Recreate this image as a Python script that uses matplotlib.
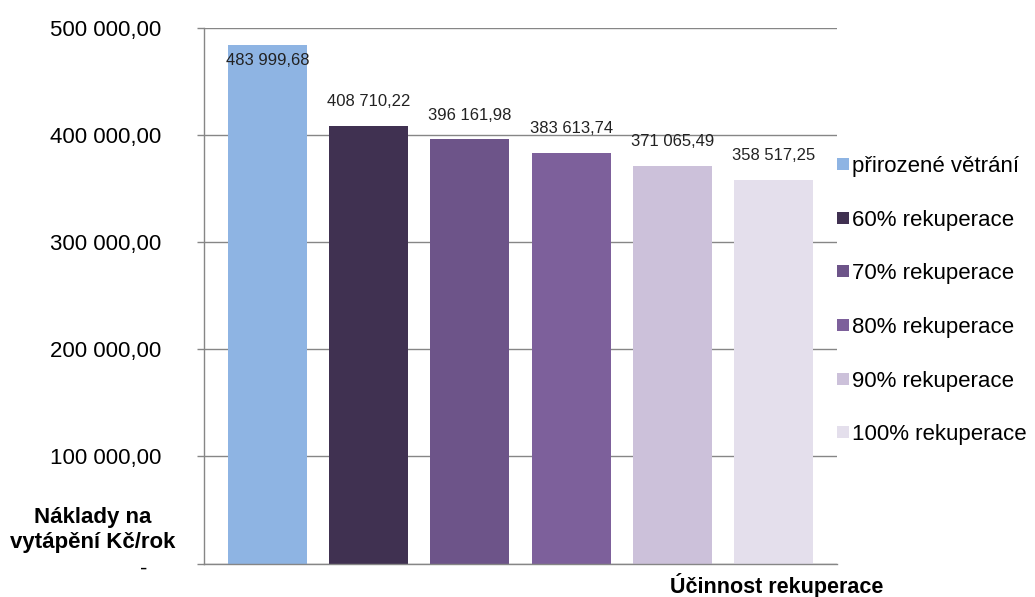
import matplotlib.pyplot as plt
from matplotlib.transforms import blended_transform_factory

plt.rcParams['font.family'] = ['Liberation Sans', 'DejaVu Sans']

# data
series = ["přirozené větrání", "60% rekuperace", "70% rekuperace",
          "80% rekuperace", "90% rekuperace", "100% rekuperace"]
costs = [483999.68, 408710.22, 396161.98, 383613.74, 371065.49, 358517.25]
colors = ["#8EB4E3", "#403151", "#6D5489", "#7D609B", "#CCC1DA", "#E4DFEC"]
yticks = [0, 100000, 200000, 300000, 400000, 500000]


def fmt(v):
    # czech style: space thousands, comma decimals
    return f"{v:,.2f}".replace(",", " ").replace(".", ",")


fig = plt.figure(figsize=(10.35, 5.97), dpi=100)
ax = fig.add_axes([204 / 1035, 1 - 563.5 / 597, 633 / 1035, 535.5 / 597])

grid_c = "#868686"
for i, (name, v, c) in enumerate(zip(series, costs, colors)):
    ax.bar(i, v, width=0.78, color=c, label=name, zorder=2)
    if i == 0:
        ax.text(i, v - 14000, fmt(v), ha="center", va="center", fontsize=12,
                color="#222222", zorder=3)
    else:
        ax.text(i, v + 22500, fmt(v), ha="center", va="center", fontsize=12,
                color="#222222", zorder=3)

ax.set_xlim(-0.625, 5.625)
ax.set_ylim(0, 500000)
ax.set_yticks(yticks)
ax.set_yticklabels([""] + [fmt(t) for t in yticks[1:]], fontsize=16)
ax.set_xticks([])
ax.yaxis.grid(True, color=grid_c, linewidth=1)
ax.set_axisbelow(True)
ax.tick_params(axis="y", length=5, color=grid_c, pad=26, width=1)
for s in ["top", "right"]:
    ax.spines[s].set_visible(False)
for s in ["left", "bottom"]:
    ax.spines[s].set_color(grid_c)
    ax.spines[s].set_linewidth(1)

# zero label shown as dash (accounting format)
tr = blended_transform_factory(ax.transAxes, ax.transData)
ax.text(-0.096, -5000, "-", transform=tr, ha="center", va="center", fontsize=16)

fig.text(93 / 1035, 1 - 530 / 597, "Náklady na\nvytápění Kč/rok", ha="center",
         va="center", fontsize=16, fontweight="bold", linespacing=1.2)
fig.text(777 / 1035, 1 - 586 / 597, "Účinnost rekuperace", ha="center",
         va="center", fontsize=15.5, fontweight="bold")

fig.legend(loc="upper left", bbox_to_anchor=(837 / 1035, 1 - 156 / 597),
           frameon=False, fontsize=16, handlelength=0.55, handleheight=0.45,
           handletextpad=0.12, labelspacing=1.47, borderaxespad=0,
           borderpad=0)

fig.savefig("out.png", dpi=100)
